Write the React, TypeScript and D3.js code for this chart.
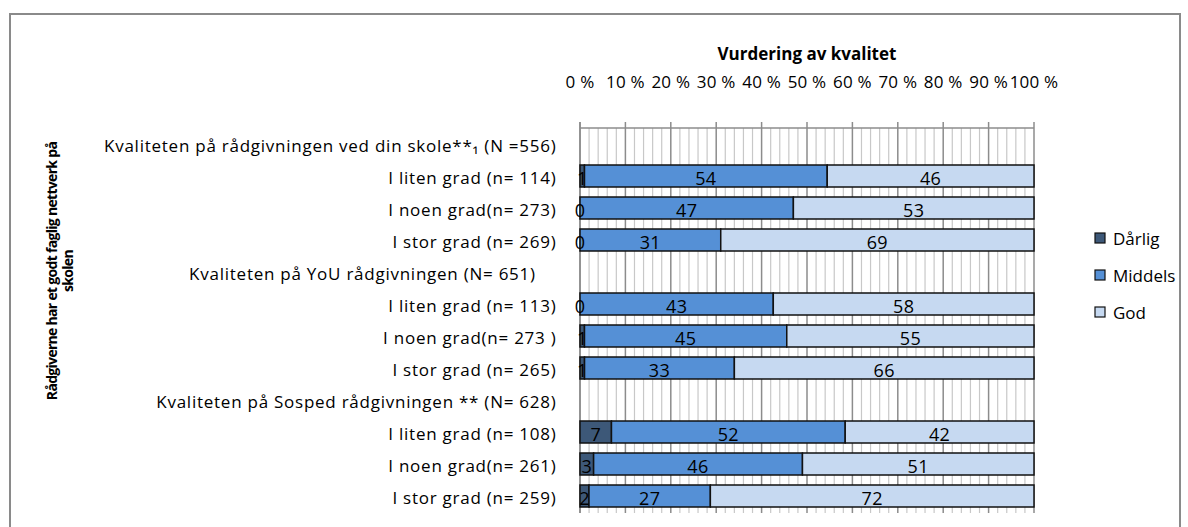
import React from 'react';
import * as d3 from 'd3';

const categories = [
  'Kvaliteten på rådgivningen ved din skole**₁ (N =556)',
  'I liten grad (n= 114)',
  'I noen grad(n= 273)',
  'I stor grad (n= 269)',
  'Kvaliteten på YoU rådgivningen (N= 651)    ',
  'I liten grad (n= 113)',
  'I noen grad(n= 273 )',
  'I stor grad (n= 265)',
  'Kvaliteten på Sosped rådgivningen ** (N= 628)',
  'I liten grad (n= 108)',
  'I noen grad(n= 261)',
  'I stor grad (n= 259)',
];
const darlig = [null, 1, 0, 0, null, 0, 1, 1, null, 7, 3, 2];
const middels = [null, 54, 47, 31, null, 43, 45, 33, null, 52, 46, 27];
const god = [null, 46, 53, 69, null, 58, 55, 66, null, 42, 51, 72];
const seriesNames = ['Dårlig', 'Middels', 'God'];
const seriesColors = ['#3d5878', '#5590d6', '#c6d9f1'];
const tickValues = [0, 10, 20, 30, 40, 50, 60, 70, 80, 90, 100];
const title = 'Vurdering av kvalitet';
const yTitleLines = ['Rådgiverne har et godt faglig nettverk på', 'skolen'];

const FONT = "'Open Sans', 'DejaVu Sans', sans-serif";

export default function App() {
  const W = 1188, H = 527;
  const x = d3.scaleLinear().domain([0, 100]).range([580, 1034]);
  const y = d3.scaleBand<number>().domain(d3.range(categories.length)).range([128, 512]).paddingInner(0.3125).paddingOuter(0.15625);
  const rows = categories.map((c, i) => ({ i, d: darlig[i], m: middels[i], g: god[i] }));
  const dataRows = rows.filter(r => r.d !== null);
  const stack = d3.stack<any>().keys(['d', 'm', 'g']).offset(d3.stackOffsetExpand);
  const series = stack(dataRows as any);
  const minorTicks = d3.range(0, 101, 2);
  const yTop = 128, yBot = 513;

  return (
    <svg width={W} height={H} style={{ position: 'absolute', left: 0, top: 0, background: '#fff' }} fontFamily={FONT}>
      <rect x={0} y={0} width={W} height={H} fill="#fff" />
      <rect x={10} y={14} width={1170} height={540} fill="none" stroke="#8a8a8a" strokeWidth={2} />
      {/* gridlines */}
      {minorTicks.map(t => (
        <line key={'m' + t} x1={x(t)} x2={x(t)} y1={yTop} y2={yBot}
          stroke={t % 10 === 0 ? '#8c8c8c' : '#c8c8c8'} strokeWidth={t % 10 === 0 ? 1.5 : 1.2} />
      ))}
      {tickValues.map(t => (
        <line key={'t' + t} x1={x(t)} x2={x(t)} y1={122} y2={yTop} stroke="#8c8c8c" strokeWidth={1.5} />
      ))}
      <line x1={x(0)} x2={x(100)} y1={yTop} y2={yTop} stroke="#8c8c8c" strokeWidth={1.5} />
      <line x1={x(0)} x2={x(0)} y1={122} y2={yBot} stroke="#8c8c8c" strokeWidth={1.5} />
      {/* bars */}
      {series.map((s, si) => (
        <g key={si}>
          {s.map((seg, j) => {
            const row = dataRows[j];
            const x0 = x(seg[0] * 100), x1 = x(seg[1] * 100);
            return (
              <rect key={j} x={x0} y={y(row.i)!} width={Math.max(0, x1 - x0)} height={y.bandwidth()}
                fill={seriesColors[si]} stroke="#111" strokeWidth={1.5} />
            );
          })}
        </g>
      ))}
      {series.map((s, si) => (
        <g key={'l' + si}>
          {s.map((seg, j) => {
            const row = dataRows[j] as any;
            const v = row[['d', 'm', 'g'][si]];
            const cx = x(((seg[0] + seg[1]) / 2) * 100);
            return (
              <text key={j} x={cx} y={y(row.i)! + y.bandwidth() / 2 + 8.5} textAnchor="middle" fontSize={18} letterSpacing={0.4} fill="#000">{v}</text>
            );
          })}
        </g>
      ))}
      {/* category labels */}
      {categories.map((c, i) => (
        <text key={i} x={556.5} y={y(i)! + y.bandwidth() / 2 + 8} textAnchor="end" fontSize={17} letterSpacing={0.75} fill="#000" style={{ whiteSpace: 'pre' }}>{c}</text>
      ))}
      {/* tick labels */}
      {tickValues.map(t => (
        <text key={'tl' + t} x={x(t)} y={88} textAnchor="middle" fontSize={17} letterSpacing={0.2} fill="#000">{t + ' %'}</text>
      ))}
      <text x={(x(0) + x(100)) / 2} y={60} textAnchor="middle" fontSize={17} fontWeight="bold" fill="#000">{title}</text>
      {/* y title */}
      <g transform="translate(52,271) rotate(-90)">
        {yTitleLines.map((l, k) => (
          <text key={k} x={0} y={k * 16 + 5} textAnchor="middle" fontSize={14} letterSpacing={-0.7} fontWeight="bold" fill="#000">{l}</text>
        ))}
      </g>
      {/* legend */}
      {seriesNames.map((n, k) => (
        <g key={n} transform={`translate(1095,${238 + k * 37})`}>
          <rect x={0} y={-5} width={10} height={10} fill={seriesColors[k]} stroke="#111" strokeWidth={1.2} />
          <text x={18} y={6.5} fontSize={17} fill="#000">{n}</text>
        </g>
      ))}
    </svg>
  );
}
